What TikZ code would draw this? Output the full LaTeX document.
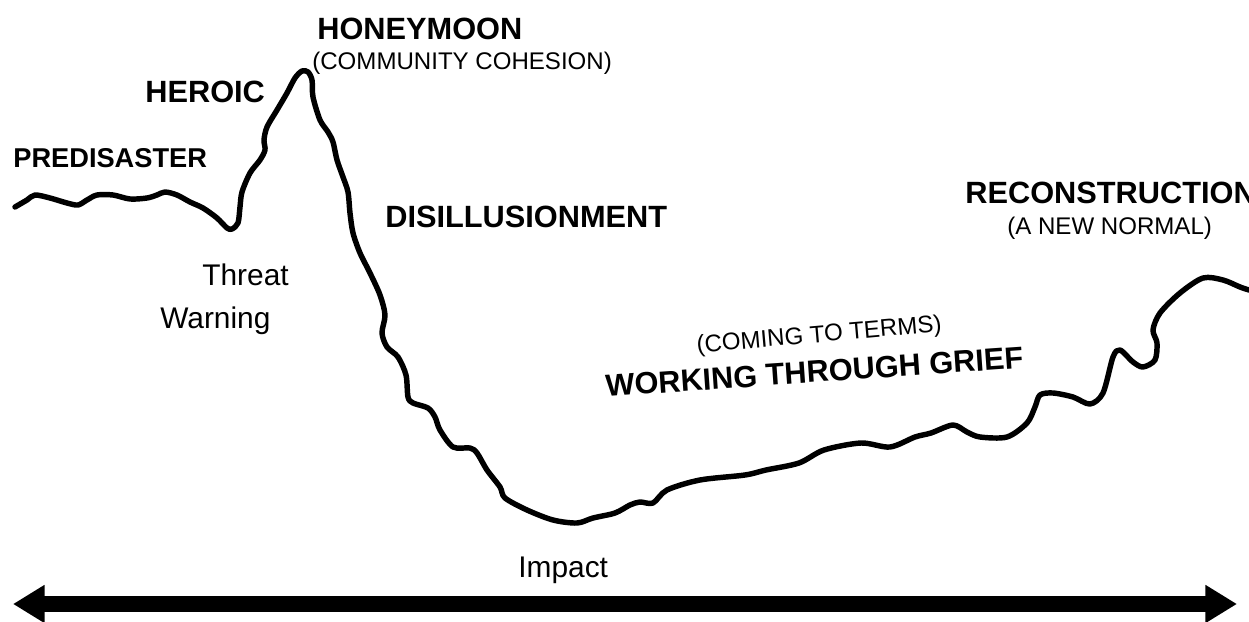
\documentclass[tikz,border=0pt]{standalone}
\usepackage{fontspec}
\setmainfont{Liberation Sans}
\usetikzlibrary{arrows.meta}
\tikzset{
  stage/.style={anchor=base west, inner sep=0pt, font=\fontsize{17.5}{20}\selectfont\bfseries},
  note/.style={anchor=base west, inner sep=0pt, font=\fontsize{13.7}{16}\selectfont},
  marker/.style={anchor=base west, inner sep=0pt, font=\fontsize{17}{20}\selectfont},
  wave/.style={line width=3.1pt, line join=round, line cap=round},
  timeline/.style={line width=9pt, {Triangle[length=18pt,width=20.5pt]}-{Triangle[length=18pt,width=20.5pt]}}
}
\begin{document}
\begin{tikzpicture}[x=0.02cm,y=-0.02cm]
    \useasboundingbox (0,0) rectangle (1249,622);
    \draw[wave] plot[smooth, tension=0.5] coordinates {
        (15,207) (27,200) (35,195) (50,198) (67,203) (78,205) (87,200) (97,195)
        (113,195) (130,199) (147,198) (157,195) (165,192) (177,195) (190,202)
        (203,208) (217,218) (227,228) (232,229) (238,223) (240,207) (242,192)
        (250,173) (260,160) (265,150) (264,140) (267,127) (277,110) (287,93)
        (295,78) (302,71) (308,72) (312,80) (313,97) (320,120) (328,132)
        (333,142) (337,160) (343,177) (348,192) (350,213) (353,233) (360,253)
        (370,273) (380,295) (385,315) (382,333) (387,347) (398,357) (406,375)
        (408,397) (413,403) (428,408) (435,417) (440,430) (453,447) (470,448)
        (477,453) (487,470) (500,487) (505,498) (527,510) (553,520) (577,523)
        (593,518) (615,513) (630,505) (640,502) (653,503) (667,490) (700,480)
        (745,475) (766,470) (799,463) (824,450) (861,443) (890,447) (915,437)
        (931,433) (953,425) (967,432) (980,437) (1007,437) (1027,423) (1035,407)
        (1040,395) (1053,393) (1073,397) (1090,404) (1103,393) (1113,357)
        (1120,350) (1133,362) (1143,367) (1155,360) (1157,343) (1153,330)
        (1160,313) (1180,293) (1203,278) (1223,280) (1240,287) (1249,290)};
    \coordinate (past) at (13,604);
    \coordinate (future) at (1237,604);
    \draw[timeline] (past) -- (future);
    \node[stage, font=\fontsize{15.5}{18}\selectfont\bfseries] (predisaster) at (13,167) {PREDISASTER};
    \node[stage] (heroic) at (145,102) {HEROIC};
    \node[stage] (honeymoon) at (317,39) {HONEYMOON};
    \node[note] (cohesion) at (312,70) {(COMMUNITY COHESION)};
    \node[stage] (disillusion) at (385,227) {DISILLUSIONMENT};
    \node[marker] (threat) at (202,285) {Threat};
    \node[marker] (warning) at (160,328) {Warning};
    \node[note, rotate=5] (terms) at (697,353) {(COMING TO TERMS)};
    \node[stage, rotate=4] (grief) at (606,397) {WORKING THROUGH GRIEF};
    \node[stage] (reconstruction) at (965,203) {RECONSTRUCTION};
    \node[note] (normal) at (1007,234) {(A NEW NORMAL)};
    \node[marker] (impact) at (518,577) {Impact};
\end{tikzpicture}
\end{document}
